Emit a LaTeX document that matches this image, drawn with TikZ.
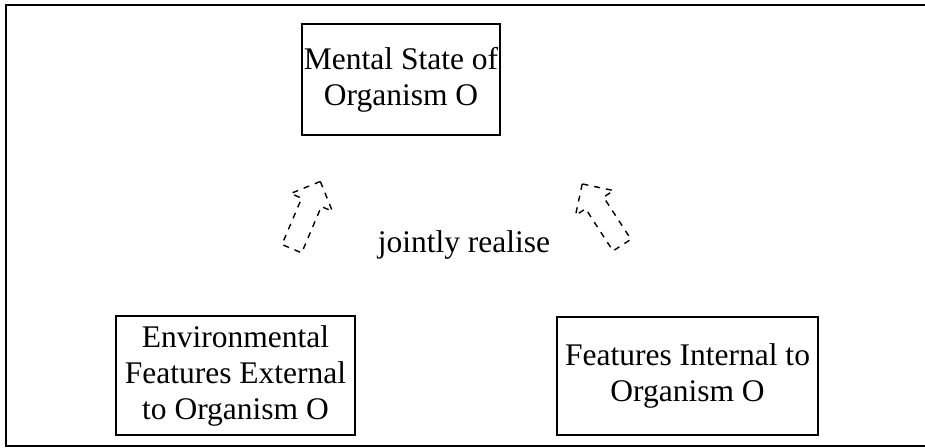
\documentclass[tikz,border=0pt]{standalone}
\usepackage{fontspec}
\setmainfont{Liberation Serif}
\usetikzlibrary{shapes.arrows}

\begin{document}
\begin{tikzpicture}[x=0.5pt,y=0.5pt,line width=1pt,font=\fontsize{15.75}{18}\selectfont,
    box node/.style={draw,rectangle,align=center,inner sep=0pt},
    realise arrow/.style={draw,dashed,line width=0.7pt,shape=single arrow,inner sep=5pt,minimum height=36.5pt,single arrow head extend=6pt}]
                \useasboundingbox (0,0) rectangle (925,447);
                \draw (6,1) rectangle (934,442);

                \node[box node,minimum width=99pt,minimum height=55.5pt] (state) at (401,367.5) {Mental State of\\Organism O};
                \node[box node,minimum width=119.5pt,minimum height=59.5pt] (env) at (235.5,71.5) {Environmental\\Features External\\to Organism O};
                \node[box node,minimum width=130.5pt,minimum height=59pt] (internal) at (687.5,71) {Features Internal to\\Organism O};

                \node (realise) at (464,202) {jointly realise};

                \node[realise arrow,rotate=67] (left arrow) at (304,227) {};
                \node[realise arrow,rotate=123] (right arrow) at (605,228) {};
            \end{tikzpicture}
\end{document}
